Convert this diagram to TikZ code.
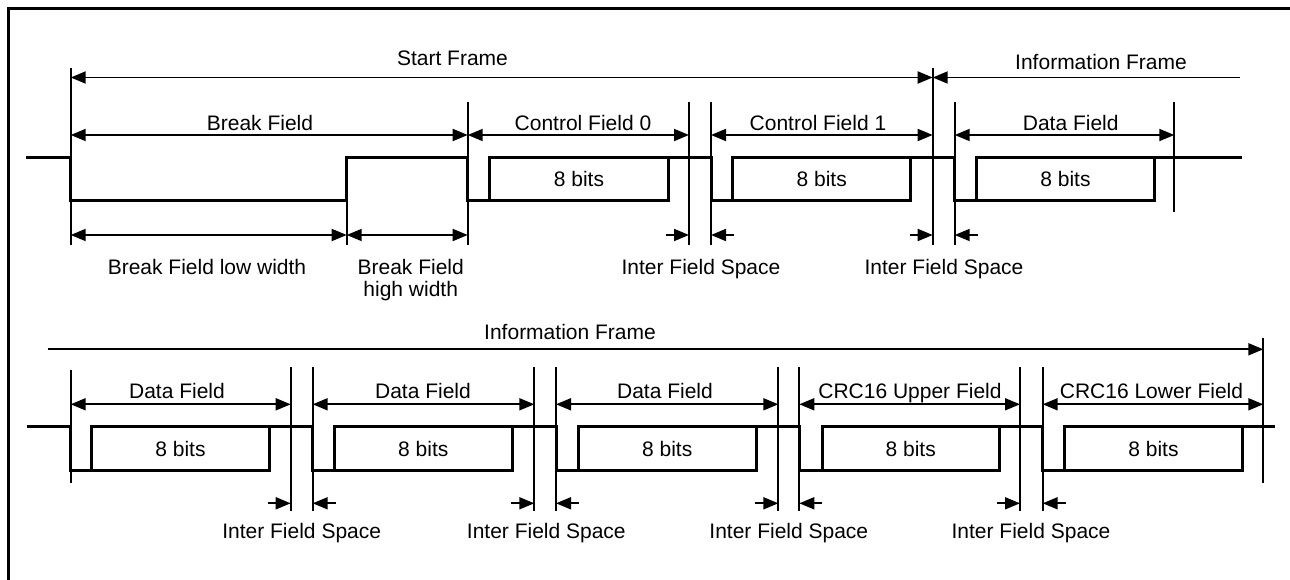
\documentclass[tikz,border=0pt]{standalone}
\usepackage{fontspec}
\setmainfont{Liberation Sans}
\usetikzlibrary{arrows.meta}
\begin{document}
\begin{tikzpicture}[x=1pt,y=-1pt,
  sig/.style={line width=3pt, line join=miter, line cap=butt},
  thin/.style={line width=1.8pt},
  tick/.style={line width=1.8pt},
  frame/.style={line width=3.2pt},
  tip/.tip={Triangle[length=15pt 0 0,width=12pt 0 0]},
  dimboth/.style={thin, tip-tip},
  dimend/.style={thin, -tip},
  dimstart/.style={thin, tip-},
  lbl/.style={font=\fontsize{21}{22}\selectfont, inner sep=0pt, anchor=base},
]
\useasboundingbox (0,0) rectangle (1290,580);
\fill[white] (0,0) rectangle (1290,580);
% frame (only top and left edges are visible)
\draw[frame] (8.5,585) -- (8.5,8.5) -- (1295,8.5);

% ---------- row y levels ----------
\foreach \n/\y in {ySF/77.5, yBF/135, yDW/235, yT0/68, yT1/245, yT2/101.7, yT3/157.3, yT4/212.3,
                   yIF/349.3, yIFt/338.3, yFA/404.3, yIS/503.3, yB0/370, yB1/482.7, yB2/366.7, yB3/510.7}
  {\coordinate (\n) at (0,\y);}

% ---------- top row tick x positions ----------
\foreach \n/\x in {xa/70.7, xb/346.7, xc/467.7, xd/689, xe/711, xf/932.7, xg/954.7, xh/1174.3}
  {\coordinate (\n) at (\x,0);}
% ---------- bottom row tick x positions ----------
\foreach \n/\x in {ba/70.7, bb/290.7, bc/312.7, bd/534.3, be/556, bf/778.3, bg/799.3, bh/1020, bi/1042.7, bj/1263.3}
  {\coordinate (\n) at (\x,0);}
\coordinate (xIFend) at (1240,0);
\coordinate (bIFstart) at (47.7,0);

% ---------- top row ticks ----------
\draw[tick] (xa |- yT0) -- (xa |- yT1);
\draw[tick] (xf |- yT0) -- (xf |- yT1);
\draw[tick] (xb |- yT3) -- (xb |- yT1);
\foreach \n in {xc,xd,xe,xg}{\draw[tick] (\n |- yT2) -- (\n |- yT1);}
\draw[tick] (xh |- yT2) -- (xh |- yT4);

% ---------- top row dimension arrows ----------
\draw[dimboth] (xa |- ySF) -- (xf |- ySF);
\draw[dimstart] (xf |- ySF) -- (xIFend |- ySF);
\draw[dimboth] (xa |- yBF) -- (xc |- yBF);
\draw[dimboth] (xc |- yBF) -- (xd |- yBF);
\draw[dimboth] (xe |- yBF) -- (xf |- yBF);
\draw[dimboth] (xg |- yBF) -- (xh |- yBF);
\draw[dimboth] (xa |- yDW) -- (xb |- yDW);
\draw[dimboth] (xb |- yDW) -- (xc |- yDW);
\foreach \l/\r in {xd/xe, xf/xg}{
  \draw[dimend] ([xshift=-23pt]\l |- yDW) -- (\l |- yDW);
  \draw[dimend] ([xshift=23pt]\r |- yDW) -- (\r |- yDW);
}

% ---------- top row signal ----------
\draw[sig] (26,157.3) -- (70.7,157.3) -- (70.7,201) -- (346.7,201) -- (346.7,157.3)
  -- (467.7,157.3) -- (467.7,201) -- (489.3,201) -- (489.3,157.3)
  -- (711,157.3) -- (711,201) -- (732.7,201) -- (732.7,157.3)
  -- (954.7,157.3) -- (954.7,201) -- (976.7,201) -- (976.7,157.3) -- (1242.3,157.3);
\foreach \a/\b in {489.3/668.7, 732.7/910.7, 976.7/1154.3}
  {\draw[sig] (\a,201) -- (\b,201) -- (\b,157.3);}

% ---------- top row labels ----------
\node[lbl] (tSF) at (452.5,65.7) {Start Frame};
\node[lbl] (tIF) at (1101,69.3) {Information Frame};
\node[lbl] (tBF) at (260,130.7) {Break Field};
\node[lbl] (tC0) at (583,130.7) {Control Field 0};
\node[lbl] (tC1) at (818,130.7) {Control Field 1};
\node[lbl] (tDF) at (1070.7,130.7) {Data Field};
\node[lbl] (b1) at (579,186.7) {8 bits};
\node[lbl] (b2) at (821.7,186.7) {8 bits};
\node[lbl] (b3) at (1065.5,186.7) {8 bits};
\node[lbl] (tLW) at (207,274.3) {Break Field low width};
\node[lbl] (tHW1) at (410.7,274.3) {Break Field};
\node[lbl] (tHW2) at (410.7,296.3) {high width};
\node[lbl] (tIS1) at (701,274.3) {Inter Field Space};
\node[lbl] (tIS2) at (944,274.3) {Inter Field Space};

% ---------- bottom row ticks ----------
\draw[tick] (ba |- yB0) -- (ba |- yB1);
\foreach \n in {bb,bc,bd,be,bf,bg,bh,bi}{\draw[tick] (\n |- yB2) -- (\n |- yB3);}
\draw[tick] (bj |- yIFt) -- (bj |- yB1);

% ---------- bottom row dimension arrows ----------
\draw[dimend] (bIFstart |- yIF) -- (bj |- yIF);
\foreach \l/\r in {ba/bb, bc/bd, be/bf, bg/bh, bi/bj}
  {\draw[dimboth] (\l |- yFA) -- (\r |- yFA);}
\foreach \l/\r in {bb/bc, bd/be, bf/bg, bh/bi}{
  \draw[dimend] ([xshift=-23pt]\l |- yIS) -- (\l |- yIS);
  \draw[dimend] ([xshift=23pt]\r |- yIS) -- (\r |- yIS);
}

% ---------- bottom row signal ----------
\draw[sig] (26.7,426.7) -- (70.7,426.7) -- (70.7,470) -- (91.7,470) -- (91.7,426.7)
  -- (312.7,426.7) -- (312.7,470) -- (334,470) -- (334,426.7)
  -- (556,426.7) -- (556,470) -- (578.3,470) -- (578.3,426.7)
  -- (799.3,426.7) -- (799.3,470) -- (822.3,470) -- (822.3,426.7)
  -- (1042.7,426.7) -- (1042.7,470) -- (1064.3,470) -- (1064.3,426.7) -- (1275,426.7);
\foreach \a/\b in {91.7/269.3, 334/512.7, 578.3/756, 822.3/999, 1064.3/1242.7}
  {\draw[sig] (\a,470) -- (\b,470) -- (\b,426.7);}

% ---------- bottom row labels ----------
\node[lbl] (uIF) at (570,339.3) {Information Frame};
\node[lbl] (uD1) at (177,398.3) {Data Field};
\node[lbl] (uD2) at (423,398.3) {Data Field};
\node[lbl] (uD3) at (665,398.3) {Data Field};
\node[lbl] (uCU) at (910,398.3) {CRC16 Upper Field};
\node[lbl] (uCL) at (1151.5,398.3) {CRC16 Lower Field};
\foreach \n/\x in {u81/180.5, u82/423.3, u83/667.2, u84/910.7, u85/1153.5}
  {\node[lbl] (\n) at (\x,456) {8 bits};}
\foreach \n/\x in {uS1/301.7, uS2/546.3, uS3/788.8, uS4/1031}
  {\node[lbl] (\n) at (\x,538.3) {Inter Field Space};}
\end{tikzpicture}
\end{document}
